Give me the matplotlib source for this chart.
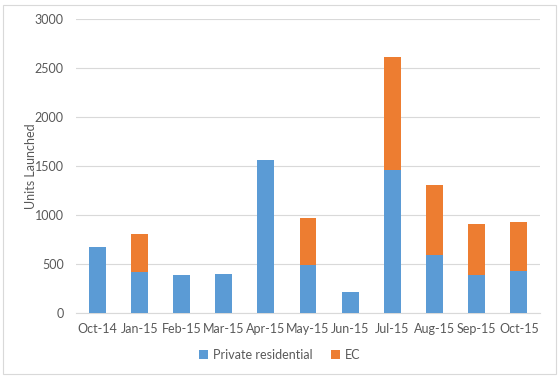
import matplotlib.pyplot as plt
from matplotlib.patches import Rectangle
import numpy as np

plt.rcParams['font.family'] = ['Lato', 'DejaVu Sans']

months = ['Oct-14', 'Jan-15', 'Feb-15', 'Mar-15', 'Apr-15', 'May-15',
          'Jun-15', 'Jul-15', 'Aug-15', 'Sep-15', 'Oct-15']
private = [675, 420, 390, 400, 1560, 490, 215, 1460, 595, 390, 430]
ec = [0, 380, 0, 0, 0, 480, 0, 1150, 705, 520, 500]

blue = '#5B9BD5'
orange = '#ED7D31'
txt = '#595959'

fig = plt.figure(figsize=(5.6, 3.77), dpi=100)
ax = fig.add_axes([0.136, 0.170, 0.828, 0.780])

x = np.arange(len(months))
ax.bar(x, private, width=0.4, color=blue, label='Private residential', zorder=3)
ax.bar(x, ec, width=0.4, bottom=private, color=orange, label='EC', zorder=3)

ax.set_xlim(-0.5, len(months) - 0.5)
ax.set_ylim(0, 3000)
ax.set_yticks(range(0, 3001, 500))
ax.set_xticks(x)
ax.set_xticklabels(months)
ax.grid(axis='y', color='#D9D9D9', linewidth=0.8, zorder=0)
ax.tick_params(length=0, labelsize=9, colors=txt)
ax.tick_params(axis='y', pad=9)
ax.tick_params(axis='x', pad=7)
for s in ax.spines.values():
    s.set_visible(False)
ax.spines['bottom'].set_visible(True)
ax.spines['bottom'].set_color('#D9D9D9')
ax.set_ylabel('Units Launched', fontsize=9, color=txt)
ax.yaxis.set_label_coords(-0.085, 0.5)

leg = fig.legend(loc='center', bbox_to_anchor=(0.5, 0.058), ncol=2, frameon=False,
                 fontsize=9, handlelength=0.7, handleheight=0.7, handletextpad=0.4,
                 columnspacing=1.5)
for t in leg.get_texts():
    t.set_color(txt)

fig.patches.append(Rectangle((0.005, 0.008), 0.988, 0.978, transform=fig.transFigure,
                             fill=False, edgecolor='#D9D9D9', linewidth=0.8))

fig.savefig('out.png', dpi=100)
